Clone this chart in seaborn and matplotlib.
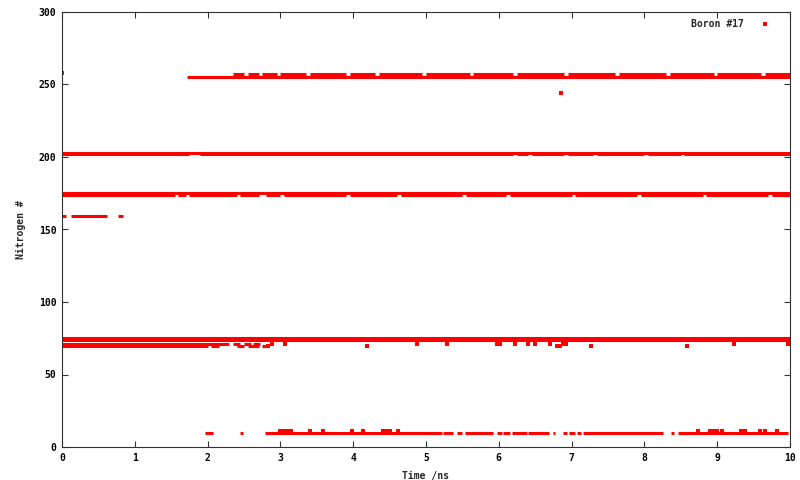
import pandas as pd
import matplotlib
matplotlib.use('Agg')
import matplotlib.pyplot as plt
import seaborn as sns

# occupancy spans (start ns, end ns) per nitrogen index
n257_spans = [(2.35, 2.5), (2.55, 2.7), (2.75, 2.95), (3.0, 3.35), (3.4, 3.9), (3.95, 4.3),
              (4.35, 4.95), (5.0, 5.6), (5.65, 6.2), (6.25, 6.9), (6.95, 7.6), (7.65, 8.3),
              (8.35, 8.95), (9.0, 9.6), (9.65, 10.0)]
n255_spans = [(1.72, 10.0)]
n203_spans = [(0.0, 10.0)]
n202_spans = [(0.0, 1.75), (1.9, 6.2), (6.25, 6.4), (6.45, 6.9), (6.95, 7.3), (7.35, 8.0),
              (8.05, 8.5), (8.55, 10.0)]
n175_spans = [(0.0, 10.0)]
n174_spans = [(0.0, 1.55), (1.6, 1.7), (1.75, 2.4), (2.45, 2.7), (2.8, 3.0), (3.05, 3.9),
              (3.95, 4.6), (4.65, 5.5), (5.55, 6.1), (6.15, 7.0), (7.05, 7.9), (7.95, 8.8),
              (8.85, 9.7), (9.75, 10.0)]
n159_spans = [(0.0, 0.05), (0.13, 0.62), (0.77, 0.84)]
n75_spans = [(0.0, 10.0)]
n74_spans = [(0.0, 10.0)]
n71_spans = [(0.0, 2.3), (2.35, 2.45), (2.5, 2.6), (2.62, 2.72)]
n70_spans = [(0.0, 2.0), (2.05, 2.15), (2.4, 2.5), (2.55, 2.7), (2.75, 2.8)]
n10_spans = [(1.96, 2.08), (2.45, 2.48), (2.79, 5.22), (5.23, 5.37), (5.43, 5.49), (5.54, 5.92),
             (5.98, 6.04), (6.06, 6.15), (6.18, 6.39), (6.40, 6.69), (6.75, 6.77), (6.88, 6.94),
             (6.96, 7.05), (7.07, 7.13), (7.16, 8.26), (8.37, 8.41), (8.46, 9.97)]

# isolated contacts
pt_time = [0.0, 6.86, 2.83, 2.88,
           3.06, 4.19, 4.88, 5.29, 5.98, 6.01, 6.22, 6.40, 6.50, 6.70, 6.80, 6.84, 6.88,
           6.92, 7.27, 8.59, 9.23, 9.97,
           3.0, 3.05, 3.1, 3.15, 3.41, 3.59, 3.98, 4.13, 4.41, 4.45, 4.5, 4.62,
           8.74, 8.9, 8.95, 9.0, 9.07, 9.33, 9.38, 9.59, 9.66, 9.82]
pt_nitrogen = [258, 244, 70, 71,
               71, 70, 71, 71, 71, 71, 71, 71, 71, 71, 70, 70, 71,
               71, 70, 70, 71, 71,
               11, 11, 11, 11, 11, 11, 11, 11, 11, 11, 11, 11,
               11, 11, 11, 11, 11, 11, 11, 11, 11, 11]

bands = {257: n257_spans, 255: n255_spans, 203: n203_spans, 202: n202_spans,
         175: n175_spans, 174: n174_spans, 159: n159_spans, 75: n75_spans,
         74: n74_spans, 71: n71_spans, 70: n70_spans, 10: n10_spans}

rows = []
for n, spans in bands.items():
    for t0, t1 in spans:
        rows.append({'nitrogen': n, 'start': t0, 'end': t1})
spans_df = pd.DataFrame(rows)
pts_df = pd.DataFrame({'time': pt_time, 'nitrogen': pt_nitrogen})

sns.set_style('ticks')
plt.rcParams['font.family'] = ['DejaVu Sans Mono']
plt.rcParams['font.weight'] = 'bold'

fig, ax = plt.subplots(figsize=(8, 4.8), dpi=100)
fig.subplots_adjust(left=0.0775, right=0.9875, top=0.975, bottom=0.06875)

red = '#ff0000'
ax.hlines(spans_df['nitrogen'], spans_df['start'], spans_df['end'],
          colors=red, linewidth=2.2, capstyle='butt')
sns.scatterplot(data=pts_df, x='time', y='nitrogen', ax=ax, color=red, marker='s',
                s=5, linewidth=0, label='Boron #17')

ax.set_xlim(0, 10)
ax.set_ylim(0, 300)
ax.set_xticks(range(0, 11))
ax.set_yticks(range(0, 301, 50))
ax.tick_params(direction='in', length=4, width=0.8, top=True, right=True,
               labelsize=7, colors='#333333', labelcolor='black', pad=4)
for s in ax.spines.values():
    s.set_color('#333333')
    s.set_linewidth(0.8)
ax.set_xlabel('Time /ns', fontsize=7, fontweight='bold', labelpad=6)
ax.set_ylabel('Nitrogen #', fontsize=7, fontweight='bold', labelpad=9)

ax.legend(loc='upper right', bbox_to_anchor=(0.989, 1.0), markerfirst=False,
          frameon=False, fontsize=7, handletextpad=1.2, borderaxespad=0.3)

fig.savefig('out.png', dpi=100)
